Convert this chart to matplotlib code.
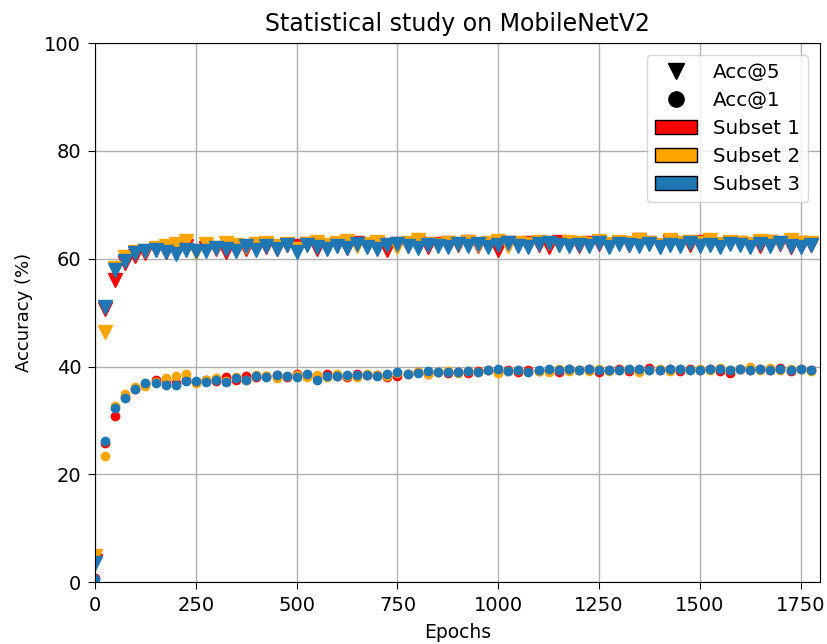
import matplotlib
matplotlib.use("Agg")
import matplotlib.pyplot as plt
from matplotlib.lines import Line2D
from matplotlib.patches import Patch

epochs = list(range(0, 1800, 25))

acc5_s1 = [4.0, 50.6, 56.0, 59.3, 60.5, 61.0, 61.8, 61.2, 61.9, 62.3, 61.5, 62.0,
           61.8, 61.2, 62.4, 61.9, 62.6, 62.2, 61.8, 62.5, 62.3, 62.8, 61.9, 62.4,
           62.6, 62.0, 62.9, 62.3, 62.7, 61.6, 62.8, 62.4, 63.0, 62.2, 62.7, 62.9,
           62.5, 63.1, 62.3, 62.8, 61.7, 62.9, 62.5, 63.0, 62.6, 62.2, 63.1, 62.7,
           62.4, 63.0, 62.8, 62.5, 63.0, 62.6, 63.4, 62.9, 62.4, 63.1, 62.7, 62.5,
           63.2, 62.8, 62.3, 63.0, 62.9, 62.6, 62.4, 63.1, 62.8, 62.2, 63.0, 62.6]
acc5_s2 = [4.8, 46.5, 58.3, 60.3, 61.2, 61.5, 62.0, 62.4, 62.8, 63.3, 61.3, 62.7,
           62.0, 62.9, 62.5, 62.2, 62.7, 63.0, 62.4, 62.8, 61.9, 62.7, 63.1, 62.5,
           62.9, 63.3, 62.4, 62.8, 63.1, 62.6, 62.2, 62.9, 63.4, 62.7, 62.5, 63.0,
           62.8, 63.2, 62.6, 62.9, 63.3, 62.4, 63.0, 62.7, 63.2, 62.9, 62.6, 63.1,
           63.0, 62.7, 63.3, 62.8, 63.1, 62.9, 63.5, 63.0, 62.6, 63.4, 62.9, 63.2,
           63.0, 63.5, 62.8, 63.2, 63.0, 62.7, 63.3, 63.1, 62.9, 63.4, 63.0, 62.9]
acc5_s3 = [3.5, 51.0, 58.0, 59.6, 61.0, 61.4, 61.6, 61.3, 60.8, 61.7, 61.5, 61.4,
           62.0, 61.8, 61.5, 62.3, 61.6, 62.4, 61.9, 62.6, 61.3, 62.5, 62.1, 61.8,
           62.4, 62.0, 62.7, 62.2, 61.9, 62.5, 62.8, 62.3, 62.0, 62.6, 62.4, 62.1,
           62.7, 62.3, 62.8, 62.2, 62.5, 62.9, 62.4, 62.1, 62.7, 63.0, 62.5, 62.3,
           62.6, 62.4, 62.9, 62.2, 62.7, 62.5, 62.3, 62.8, 62.1, 62.6, 62.4, 62.9,
           62.3, 62.6, 62.2, 62.8, 62.5, 62.1, 62.7, 62.4, 62.9, 62.3, 62.2, 62.6]

acc1_s1 = [0.8, 25.8, 30.8, 34.3, 35.8, 36.8, 37.5, 37.5, 37.0, 37.6, 37.2, 37.5,
           37.3, 38.0, 37.6, 38.2, 38.0, 38.3, 38.5, 38.1, 38.6, 38.4, 38.0, 38.6,
           38.3, 38.0, 38.6, 38.4, 38.5, 38.1, 38.3, 38.7, 38.9, 38.6, 39.0, 38.8,
           39.0, 38.8, 39.2, 39.4, 38.9, 39.3, 39.0, 39.3, 39.1, 39.4, 38.9, 39.5,
           39.3, 39.6, 39.0, 39.4, 39.5, 39.2, 39.4, 39.7, 39.3, 39.6, 39.1, 39.5,
           39.4, 39.6, 39.2, 38.8, 39.5, 39.3, 39.6, 39.4, 39.7, 39.2, 39.5, 39.3]
acc1_s2 = [4.5, 23.5, 32.6, 35.0, 36.2, 36.4, 37.1, 37.9, 38.2, 38.6, 37.0, 37.6,
           37.8, 37.4, 38.1, 37.6, 38.4, 38.2, 37.9, 38.3, 38.5, 38.1, 38.4, 38.0,
           38.6, 38.3, 38.1, 38.7, 38.5, 38.2, 38.8, 38.6, 39.0, 38.7, 38.9, 39.1,
           38.8, 39.2, 38.9, 39.3, 38.8, 39.1, 39.4, 39.0, 39.2, 38.9, 39.5, 39.2,
           39.4, 39.1, 39.6, 39.2, 39.3, 39.6, 39.0, 39.4, 39.5, 39.2, 39.6, 39.3,
           39.5, 39.3, 39.7, 39.4, 39.6, 39.9, 39.4, 39.7, 39.3, 39.6, 39.5, 39.2]
acc1_s3 = [0.6, 26.2, 32.4, 34.1, 35.9, 37.0, 37.0, 36.5, 36.5, 37.4, 37.3, 37.2,
           37.6, 37.2, 37.8, 37.5, 38.2, 38.0, 38.4, 38.3, 38.1, 38.6, 37.6, 38.3,
           38.2, 38.4, 38.5, 38.5, 38.3, 38.6, 38.9, 38.7, 38.8, 39.2, 38.9, 39.0,
           38.9, 39.1, 39.0, 39.3, 39.5, 39.1, 39.3, 39.0, 39.4, 39.6, 39.3, 39.5,
           39.4, 39.6, 39.3, 39.4, 39.3, 39.5, 39.6, 39.4, 39.3, 39.5, 39.6, 39.3,
           39.4, 39.6, 39.5, 39.3, 39.6, 39.4, 39.5, 39.3, 39.5, 39.4, 39.6, 39.3]

subset_names = ["Subset 1", "Subset 2", "Subset 3"]
subset_colors = ["red", "orange", "#1f77b4"]

fig = plt.figure(figsize=(8.27, 6.44), dpi=100)
ax = fig.add_axes([0.115, 0.096, 0.876, 0.837])

acc5 = [acc5_s1, acc5_s2, acc5_s3]
acc1 = [acc1_s1, acc1_s2, acc1_s3]
for a5, a1, c in zip(acc5, acc1, subset_colors):
    ax.plot(epochs, a5, linestyle="none", marker="v", markersize=10, color=c)
    ax.plot(epochs, a1, linestyle="none", marker="o", markersize=6, color=c)

ax.set_xlim(0, 1797)
ax.set_ylim(0, 100)
ax.set_xticks([0, 250, 500, 750, 1000, 1250, 1500, 1750])
ax.set_yticks([0, 20, 40, 60, 80, 100])
ax.tick_params(labelsize=14, length=5, pad=5)
ax.grid(True, color="#b0b0b0", linewidth=1)
ax.set_axisbelow(True)
ax.set_title("Statistical study on MobileNetV2", fontsize=17, pad=9)
ax.set_xlabel("Epochs", fontsize=13.5, labelpad=6)
ax.set_ylabel("Accuracy (%)", fontsize=13, labelpad=8)

handles = [
    Line2D([], [], linestyle="none", marker="v", color="black", markersize=12),
    Line2D([], [], linestyle="none", marker="o", color="black", markersize=11),
]
labels = ["Acc@5", "Acc@1"]
for n, c in zip(subset_names, subset_colors):
    handles.append(Patch(facecolor=c, edgecolor="black"))
    labels.append(n)
ax.legend(handles, labels, loc="upper right", fontsize=14.3, handlelength=2.1,
          labelspacing=0.45, borderaxespad=0.6)

fig.savefig("out.png", dpi=100)
